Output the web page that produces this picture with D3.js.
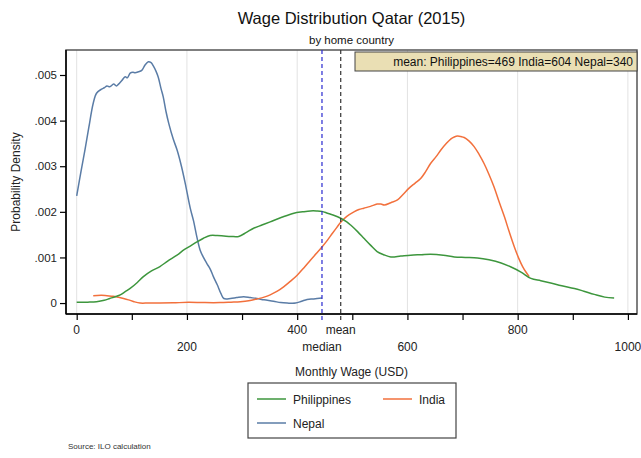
<!DOCTYPE html>
<html>
<head>
<meta charset="utf-8">
<script src="https://cdn.jsdelivr.net/npm/d3@7"></script>
<style>
  html, body { margin: 0; padding: 0; background: #fff; }
  svg { display: block; font-family: "Liberation Sans", Arial, sans-serif; }
</style>
</head>
<body>
<svg id="chart" width="641" height="458"></svg>
<script>
// ---------- data ----------
const seriesNames = ["Philippines", "India", "Nepal"];
const seriesColors = ["#3d963d", "#f2703c", "#5a7ca6"];

const philippinesWage = [0,20,36,50,60,70,79,88,97,110,121,135,151,165,182,195,206,218,230,242,255,267,280,294,308,321,336,351,372,394,410,424,435,445,455,465,479,490,497,510,521,533,545,557,570,588,606,625,642,665,685,705,727,748,770,788,806,824,842,860,880,903,920,939,958,975];
const philippinesDensity = [0.015,0.02,0.03,0.06,0.10,0.14,0.18,0.25,0.32,0.45,0.58,0.70,0.80,0.92,1.05,1.17,1.25,1.34,1.42,1.48,1.48,1.47,1.46,1.46,1.55,1.64,1.71,1.78,1.88,1.97,2.0,2.02,2.02,2.01,1.97,1.93,1.86,1.78,1.71,1.56,1.42,1.27,1.13,1.06,1.01,1.03,1.05,1.06,1.07,1.05,1.01,1.0,0.99,0.95,0.88,0.79,0.68,0.54,0.49,0.44,0.38,0.32,0.26,0.19,0.13,0.11];

const indiaWage = [30,45,55,66,76,85,94,104,115,130,151,175,203,230,260,280,297,312,327,340,351,364,376,388,400,412,424,435,445,455,464,472,479,490,503,512,521,533,545,552,558,570,582,592,603,614,624,633,642,652,661,670,679,685,691,697,703,712,721,730,739,748,757,766,776,785,794,802,809,815,821];
const indiaDensity = [0.16,0.17,0.16,0.15,0.125,0.10,0.07,0.03,0.0,0.0,0.0,0.005,0.015,0.01,0.01,0.02,0.03,0.05,0.09,0.13,0.18,0.26,0.36,0.48,0.61,0.77,0.94,1.09,1.23,1.38,1.53,1.66,1.77,1.90,2.0,2.05,2.08,2.12,2.17,2.17,2.15,2.2,2.26,2.38,2.52,2.63,2.73,2.88,3.06,3.21,3.36,3.49,3.60,3.64,3.66,3.65,3.63,3.55,3.43,3.26,3.06,2.82,2.55,2.23,1.89,1.55,1.23,0.98,0.80,0.68,0.58];

const nepalWage = [0,8,15,22,30,36,45,50,55,60,67,72,76,82,88,92,97,102,106,112,118,124,130,135,139,144,148,153,157,162,167,175,182,190,197,206,212,218,224,230,236,242,248,255,262,267,279,290,303,315,327,340,357,370,382,397,408,418,430,445];
const nepalDensity = [2.35,2.9,3.36,3.85,4.38,4.6,4.69,4.72,4.76,4.74,4.80,4.76,4.80,4.88,4.96,4.94,5.04,5.06,5.05,5.07,5.10,5.22,5.29,5.27,5.20,5.08,4.95,4.70,4.52,4.2,3.94,3.6,3.36,3.0,2.62,2.08,1.8,1.45,1.16,1.0,0.87,0.75,0.58,0.4,0.2,0.10,0.10,0.12,0.14,0.12,0.10,0.07,0.04,0.01,0.0,0.0,0.04,0.08,0.09,0.11];

const medianWage = 445;
const meanWage = 479;
const meanNote = "mean: Philippines=469 India=604 Nepal=340";

const xTicks = [0,100,200,300,400,500,600,700,800,900,1000];
const xLabels = [0,200,400,600,800,1000];
const yTicks = [0,0.001,0.002,0.003,0.004,0.005];
const yTickLabels = ["0",".001",".002",".003",".004",".005"];

// ---------- layout ----------
const svg = d3.select("#chart");
const plot = {left: 66, right: 637, top: 50, bottom: 314};

const x = d3.scaleLinear().domain([-19.4, 1016.5]).range([plot.left, plot.right]);
const y = d3.scaleLinear().domain([-0.00024, 0.005548]).range([plot.bottom, plot.top]);

// gridlines
svg.append("g").selectAll("line").data(xLabels).join("line")
  .attr("x1", d => x(d)).attr("x2", d => x(d))
  .attr("y1", plot.top).attr("y2", plot.bottom)
  .attr("stroke", "#e2e2e2").attr("stroke-width", 1);

// frame (top/right)
svg.append("rect")
  .attr("x", plot.left).attr("y", plot.top)
  .attr("width", plot.right - plot.left).attr("height", plot.bottom - plot.top)
  .attr("fill", "none").attr("stroke", "#555").attr("stroke-width", 1.5);

// lines
const dens = (arr) => arr.map(v => v / 1000);
const data = [
  d3.zip(philippinesWage, dens(philippinesDensity)),
  d3.zip(indiaWage, dens(indiaDensity)),
  d3.zip(nepalWage, dens(nepalDensity))
];
const line = d3.line().x(d => x(d[0])).y(d => y(d[1])).curve(d3.curveCatmullRom.alpha(0.5));
const drawOrder = [2, 1, 0];
svg.append("g").selectAll("path").data(drawOrder).join("path")
  .attr("d", i => line(data[i]))
  .attr("fill", "none")
  .attr("stroke", i => seriesColors[i])
  .attr("stroke-width", 1.5);

// median & mean lines
svg.append("line")
  .attr("x1", x(medianWage)).attr("x2", x(medianWage))
  .attr("y1", plot.top).attr("y2", plot.bottom + 6)
  .attr("stroke", "#2a2ad0").attr("stroke-width", 1.2).attr("stroke-dasharray", "4,3");
svg.append("line")
  .attr("x1", x(meanWage)).attr("x2", x(meanWage))
  .attr("y1", plot.top).attr("y2", plot.bottom + 6)
  .attr("stroke", "#333").attr("stroke-width", 1.2).attr("stroke-dasharray", "4,3");

// axes lines
svg.append("line").attr("x1", plot.left).attr("x2", plot.left).attr("y1", plot.top).attr("y2", plot.bottom)
  .attr("stroke", "#000").attr("stroke-width", 1.5);
svg.append("line").attr("x1", plot.left).attr("x2", plot.right).attr("y1", plot.bottom).attr("y2", plot.bottom)
  .attr("stroke", "#000").attr("stroke-width", 1.5);

// y axis
const yAxis = d3.axisLeft(y).tickValues(yTicks).tickSize(6).tickPadding(3)
  .tickFormat((d, i) => yTickLabels[i]);
const gy = svg.append("g").attr("transform", `translate(${plot.left},0)`).call(yAxis);
gy.select(".domain").remove();
gy.selectAll(".tick line").attr("stroke", "#000").attr("stroke-width", 1.2);
gy.selectAll(".tick text").attr("font-size", 11.5).attr("fill", "#222")
  .attr("font-family", "Liberation Sans, Arial, sans-serif");

// x axis ticks
const xAxis = d3.axisBottom(x).tickValues(xTicks).tickSize(6).tickFormat("");
const gx = svg.append("g").attr("transform", `translate(0,${plot.bottom})`).call(xAxis);
gx.select(".domain").remove();
gx.selectAll(".tick line").attr("stroke", "#000").attr("stroke-width", 1.2);

// x labels, staggered
svg.append("g").selectAll("text").data(xLabels).join("text")
  .attr("x", d => x(d))
  .attr("y", (d, i) => i % 2 === 0 ? 334 : 351)
  .attr("text-anchor", "middle").attr("font-size", 12).attr("fill", "#222")
  .text(d => d);
svg.append("text").attr("x", x(meanWage)).attr("y", 334).attr("text-anchor", "middle")
  .attr("font-size", 12).attr("fill", "#222").text("mean");
svg.append("text").attr("x", x(medianWage)).attr("y", 351).attr("text-anchor", "middle")
  .attr("font-size", 12).attr("fill", "#222").text("median");

// axis titles
svg.append("text").attr("x", (plot.left + plot.right) / 2).attr("y", 376)
  .attr("text-anchor", "middle").attr("font-size", 12).attr("fill", "#222").text("Monthly Wage (USD)");
svg.append("text").attr("transform", `translate(20,${(plot.top + plot.bottom) / 2}) rotate(-90)`)
  .attr("text-anchor", "middle").attr("font-size", 12).attr("fill", "#222").text("Probability Density");

// titles
svg.append("text").attr("x", (plot.left + plot.right) / 2).attr("y", 24)
  .attr("text-anchor", "middle").attr("font-size", 16.5).attr("fill", "#111").text("Wage Distribution Qatar (2015)");
svg.append("text").attr("x", (plot.left + plot.right) / 2).attr("y", 44)
  .attr("text-anchor", "middle").attr("font-size", 11.5).attr("fill", "#111").text("by home country");

// mean note box
const noteG = svg.append("g");
noteG.append("rect").attr("x", 355).attr("y", 52).attr("width", plot.right - 355).attr("height", 19)
  .attr("fill", "#eadfb4").attr("stroke", "#444").attr("stroke-width", 1);
noteG.append("text").attr("x", plot.right - 4).attr("y", 66).attr("text-anchor", "end")
  .attr("font-size", 12).attr("fill", "#111").text(meanNote);

// legend
const lg = svg.append("g");
lg.append("rect").attr("x", 248).attr("y", 383).attr("width", 208).attr("height", 55)
  .attr("fill", "#fff").attr("stroke", "#444").attr("stroke-width", 1.2);
const legendPos = [[257, 399], [383, 399], [257, 423]];
seriesNames.forEach((name, i) => {
  const [lx, ly] = legendPos[i];
  lg.append("line").attr("x1", lx).attr("x2", lx + 29).attr("y1", ly).attr("y2", ly)
    .attr("stroke", seriesColors[i]).attr("stroke-width", 1.5);
  lg.append("text").attr("x", lx + 36).attr("y", ly + 4.5).attr("font-size", 12).attr("fill", "#222").text(name);
});

// source
svg.append("text").attr("x", 68).attr("y", 449).attr("font-size", 8).attr("fill", "#333").text("Source: ILO calculation");
</script>
</body>
</html>
